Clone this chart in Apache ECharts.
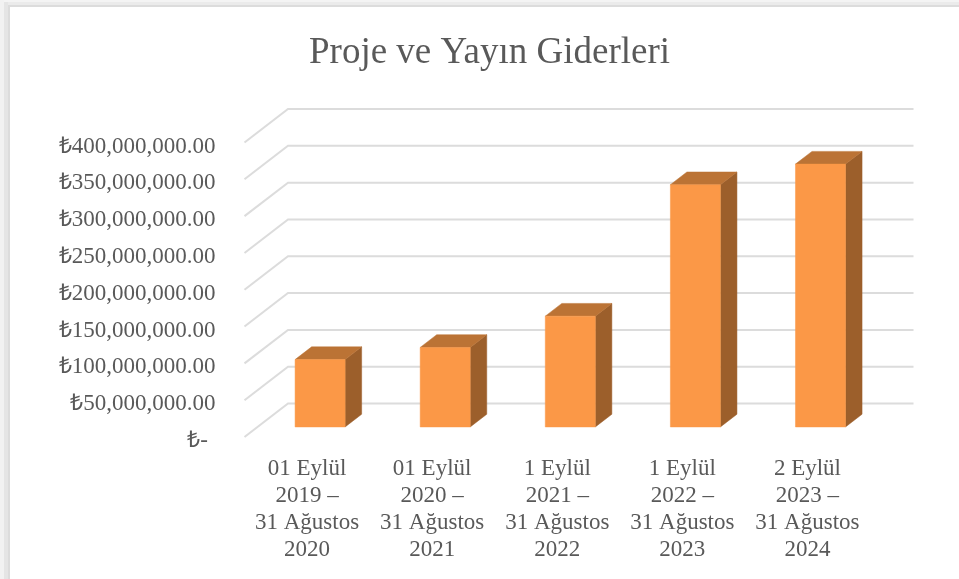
<!DOCTYPE html>
<html><head><meta charset="utf-8">
<style>html,body{margin:0;padding:0;background:#fff}#c{width:959px;height:579px}</style>
<script src="https://cdn.jsdelivr.net/npm/echarts@6/dist/echarts.min.js"></script>
</head><body><div id="c"></div>
<script>
const titleText = 'Proje ve Yayın Giderleri';
const categories = ['01 Eylül\n2019 –\n31 Ağustos\n2020','01 Eylül\n2020 –\n31 Ağustos\n2021','1 Eylül\n2021 –\n31 Ağustos\n2022','1 Eylül\n2022 –\n31 Ağustos\n2023','2 Eylül\n2023 –\n31 Ağustos\n2024'];
const values = [91500000,108000000,150500000,329000000,357000000];
const tickValues = [0,50000000,100000000,150000000,200000000,250000000,300000000,350000000,400000000];
const tickLabels = ['₺-\u00a0\u200a','₺50,000,000.00','₺100,000,000.00','₺150,000,000.00','₺200,000,000.00','₺250,000,000.00','₺300,000,000.00','₺350,000,000.00','₺400,000,000.00'];
const DX = 43.5, DY = 33.5;      // projection of the full floor depth
const D0 = 0.30, D1 = 0.68;      // bar's front and back depth
const font = '"Liberation Serif","Times New Roman",serif';
const chart = echarts.init(document.getElementById('c'));
function poly(pts, fill){ return {type:'polygon',shape:{points:pts},style:{fill:fill,stroke:fill,lineWidth:0.5}}; }
chart.setOption({
  animation:false,
  backgroundColor:'#fff',
  title:{text:titleText,left:484.5,top:30,textAlign:'center',textStyle:{fontFamily:font,fontSize:37,fontWeight:'normal',color:'#595959'}},
  grid:{left:244.5,width:625.5,top:142.5,height:294.5},
  xAxis:{type:'category',data:categories,axisLine:{show:false},axisTick:{show:false},splitLine:{show:false},
    axisLabel:{interval:0,margin:18,fontFamily:font,fontSize:23,lineHeight:27,color:'#595959',align:'center'}},
  yAxis:{type:'value',min:0,max:400000000,interval:50000000,axisLine:{show:false},axisTick:{show:false},splitLine:{show:false},
    axisLabel:{margin:29,verticalAlign:'top',lineHeight:8,fontFamily:font,fontSize:23,color:'#595959',formatter:v=>tickLabels[tickValues.indexOf(v)]}},
  series:[
    {type:'custom',z:1,clip:false,silent:true,data:tickValues.map(v=>[0,v]),
     renderItem(p,api){
       const y=api.coord([0,api.value(1)])[1], x0=p.coordSys.x, x1=x0+p.coordSys.width;
       return {type:'polyline',shape:{points:[[x0,y],[x0+DX,y-DY],[x1+DX,y-DY]]},style:{stroke:'#dcdcdc',lineWidth:2,fill:'none'}};
     }},
    {type:'custom',z:2,clip:false,data:values.map((v,i)=>[i,v]),
     renderItem(p,api){
       const i=api.value(0), w=api.size([1,0])[0]*0.4;
       const b=api.coord([i,0]), t=api.coord([i,api.value(1)]);
       const xl=b[0]-w/2+DX*D0, xr=xl+w, yb=b[1]-DY*D0, yt=t[1]-DY*D0;
       const sx=DX*(D1-D0), sy=DY*(D1-D0);
       return {type:'group',children:[
         poly([[xr,yb],[xr+sx,yb-sy],[xr+sx,yt-sy],[xr,yt]],'#9c5f2b'),
         poly([[xl,yt],[xr,yt],[xr+sx,yt-sy],[xl+sx,yt-sy]],'#bb7335'),
         poly([[xl,yb],[xr,yb],[xr,yt],[xl,yt]],'#fb9847')
       ]};
     }}
  ],
  graphic:[
    {type:'rect',z:-1,shape:{x:0,y:0,width:959,height:2},style:{fill:'#f4f4f4'}},
    {type:'rect',z:-1,shape:{x:0,y:2,width:959,height:3},style:{fill:'#ebebeb'}},
    {type:'rect',z:-1,shape:{x:0,y:5,width:959,height:2},style:{fill:'#dcdcdc'}},
    {type:'rect',z:-1,shape:{x:0,y:0,width:4,height:579},style:{fill:'#f2f2f2'}},
    {type:'rect',z:-1,shape:{x:4,y:2,width:4,height:577},style:{fill:'#e5e5e5'}},
    {type:'rect',z:-1,shape:{x:8,y:5,width:2,height:574},style:{fill:'#dcdcdc'}}
  ]
});
</script></body></html>
